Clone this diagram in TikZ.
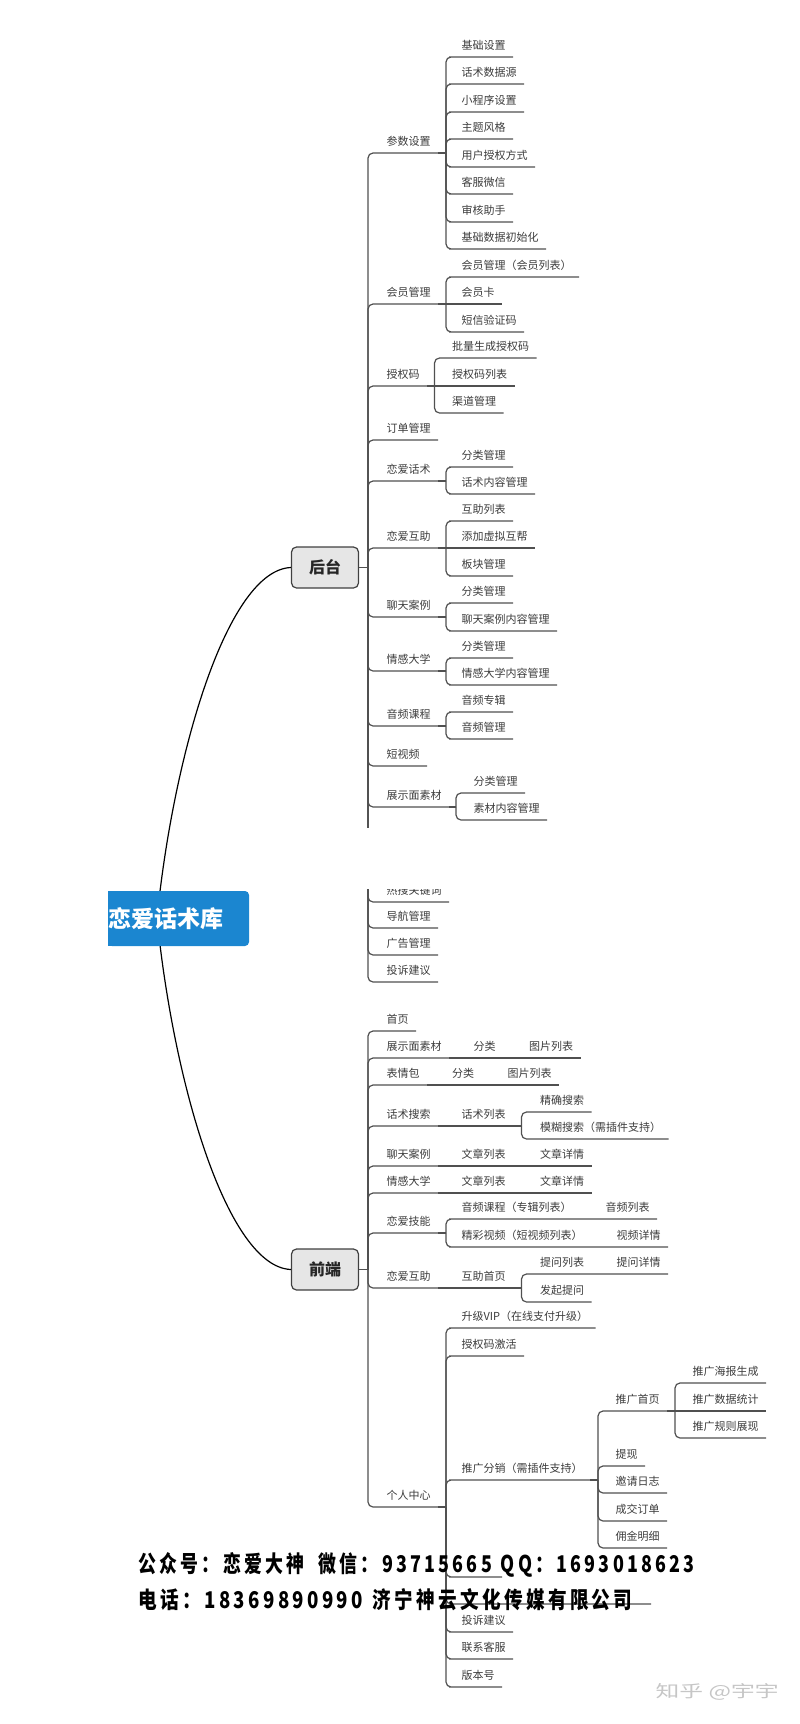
\documentclass[tikz,border=0pt]{standalone}
\usepackage{fontspec}
\setmainfont{Noto Sans CJK SC}
\usepackage{graphicx}
\usepackage{tikz}
\definecolor{rootblue}{RGB}{27,134,208}
\definecolor{linegray}{RGB}{80,80,80}
\definecolor{txtgray}{RGB}{60,60,60}
\definecolor{boxgray}{RGB}{230,230,230}

\begin{document}
\begin{tikzpicture}[x=1pt, y=-1pt, line width=1.2pt,
    lbl/.style={anchor=south west, inner xsep=7pt, inner ysep=4pt, text height=8pt, text depth=3pt,
        font=\fontsize{11pt}{13pt}\selectfont, text=txtgray},
    conn/.style={draw=linegray, rounded corners=5pt},
    sconn/.style={draw=linegray},
    catbox/.style={draw=black!75, fill=boxgray, rounded corners=5pt, minimum width=67pt,
        minimum height=41pt, font=\fontsize{16pt}{18pt}\selectfont\bfseries, text=black!85},
    rootnode/.style={fill=rootblue, rounded corners=4pt, inner xsep=0pt, text width=141pt,
        minimum height=55pt, align=left, font=\fontsize{23pt}{26pt}\selectfont\bfseries, text=white},
    wmark/.style={anchor=base west, inner sep=0pt, font=\bfseries\addfontfeatures{LetterSpace=18}}]
    \useasboundingbox (0,0) rectangle (800,1724);

    % main branches
    \coordinate (rootj) at (157,918);
    \node[catbox] (ht) at (325,567.5) {后台};
    \node[catbox] (qd) at (325,1269.5) {前端};
    \draw (rootj) .. controls (174,750) and (228,570) .. (ht.west);
    \draw (rootj) .. controls (174,1087) and (228,1267) .. (qd.west);

    \fill[rootblue] (108,891) rectangle ++(8,55);
    \node[rootnode] (root) at (178.5,918.5) {恋爱话术库};

    \coordinate (jb) at (368,567.5);
    \coordinate (jf) at (368,1269.5);
    \draw[sconn] (ht.east) -- (jb);
    \draw[sconn] (qd.east) -- (jf);

    % 后台
    \node[lbl] (b1) at (379,153) {参数设置};
    \node[lbl] (b2) at (379,304) {会员管理};
    \node[lbl] (b3) at (379,386) {授权码};
    \node[lbl] (b4) at (379,440) {订单管理};
    \node[lbl] (b5) at (379,481) {恋爱话术};
    \node[lbl] (b6) at (379,548) {恋爱互助};
    \node[lbl] (b7) at (379,617) {聊天案例};
    \node[lbl] (b8) at (379,671) {情感大学};
    \node[lbl] (b9) at (379,726) {音频课程};
    \node[lbl] (b10) at (379,766) {短视频};
    \node[lbl] (b11) at (379,807) {展示面素材};
    \node[lbl] (b12) at (379,902) {热搜关键词};
    \node[lbl] (b13) at (379,928) {导航管理};
    \node[lbl] (b14) at (379,955) {广告管理};
    \node[lbl] (b15) at (379,982) {投诉建议};

    \draw[conn] (jb) |- (b1.south west) -- (b1.south east);
    \draw[conn] (jb) |- (b2.south west) -- (b2.south east);
    \draw[conn] (jb) |- (b3.south west) -- (b3.south east);
    \draw[conn] (jb) |- (b4.south west) -- (b4.south east);
    \draw[conn] (jb) |- (b5.south west) -- (b5.south east);
    \draw[conn] (jb) |- (b6.south west) -- (b6.south east);
    \draw[conn] (jb) |- (b7.south west) -- (b7.south east);
    \draw[conn] (jb) |- (b8.south west) -- (b8.south east);
    \draw[conn] (jb) |- (b9.south west) -- (b9.south east);
    \draw[conn] (jb) |- (b10.south west) -- (b10.south east);
    \draw[conn] (jb) |- (b11.south west) -- (b11.south east);
    \draw[conn] (jb) |- (b12.south west) -- (b12.south east);
    \draw[conn] (jb) |- (b13.south west) -- (b13.south east);
    \draw[conn] (jb) |- (b14.south west) -- (b14.south east);
    \draw[conn] (jb) |- (b15.south west) -- (b15.south east);

    % 参数设置
    \coordinate (j1) at (446,153);
    \node[lbl] (b1a) at (454,57) {基础设置};
    \node[lbl] (b1b) at (454,84) {话术数据源};
    \node[lbl] (b1c) at (454,112) {小程序设置};
    \node[lbl] (b1d) at (454,139) {主题风格};
    \node[lbl] (b1e) at (454,167) {用户授权方式};
    \node[lbl] (b1f) at (454,194) {客服微信};
    \node[lbl] (b1g) at (454,222) {审核助手};
    \node[lbl] (b1h) at (454,249) {基础数据初始化};
    \draw[sconn] (b1.south east) -- (j1);
    \draw[conn] (j1) |- (b1a.south west) -- (b1a.south east);
    \draw[conn] (j1) |- (b1b.south west) -- (b1b.south east);
    \draw[conn] (j1) |- (b1c.south west) -- (b1c.south east);
    \draw[conn] (j1) |- (b1d.south west) -- (b1d.south east);
    \draw[conn] (j1) |- (b1e.south west) -- (b1e.south east);
    \draw[conn] (j1) |- (b1f.south west) -- (b1f.south east);
    \draw[conn] (j1) |- (b1g.south west) -- (b1g.south east);
    \draw[conn] (j1) |- (b1h.south west) -- (b1h.south east);

    % 会员管理
    \coordinate (j2) at (446,304);
    \node[lbl] (b2a) at (454,277) {会员管理（会员列表）};
    \node[lbl] (b2b) at (454,304) {会员卡};
    \node[lbl] (b2c) at (454,332) {短信验证码};
    \draw[sconn] (b2.south east) -- (j2);
    \draw[conn] (j2) |- (b2a.south west) -- (b2a.south east);
    \draw[sconn] (j2) -- (b2b.south east);
    \draw[conn] (j2) |- (b2c.south west) -- (b2c.south east);

    % 授权码
    \coordinate (j3) at (434.5,386);
    \node[lbl] (b3a) at (444.5,358) {批量生成授权码};
    \node[lbl] (b3b) at (444.5,386) {授权码列表};
    \node[lbl] (b3c) at (444.5,413) {渠道管理};
    \draw[sconn] (b3.south east) -- (j3);
    \draw[conn] (j3) |- (b3a.south west) -- (b3a.south east);
    \draw[sconn] (j3) -- (b3b.south east);
    \draw[conn] (j3) |- (b3c.south west) -- (b3c.south east);

    % 恋爱话术
    \coordinate (j4) at (446,481);
    \node[lbl] (b5a) at (454,467) {分类管理};
    \node[lbl] (b5b) at (454,494) {话术内容管理};
    \draw[sconn] (b5.south east) -- (j4);
    \draw[conn] (j4) |- (b5a.south west) -- (b5a.south east);
    \draw[conn] (j4) |- (b5b.south west) -- (b5b.south east);

    % 恋爱互助
    \coordinate (j5) at (446,548);
    \node[lbl] (b6a) at (454,521) {互助列表};
    \node[lbl] (b6b) at (454,548) {添加虚拟互帮};
    \node[lbl] (b6c) at (454,576) {板块管理};
    \draw[sconn] (b6.south east) -- (j5);
    \draw[conn] (j5) |- (b6a.south west) -- (b6a.south east);
    \draw[sconn] (j5) -- (b6b.south east);
    \draw[conn] (j5) |- (b6c.south west) -- (b6c.south east);

    % 聊天案例
    \coordinate (j6) at (446,617);
    \node[lbl] (b7a) at (454,603) {分类管理};
    \node[lbl] (b7b) at (454,631) {聊天案例内容管理};
    \draw[sconn] (b7.south east) -- (j6);
    \draw[conn] (j6) |- (b7a.south west) -- (b7a.south east);
    \draw[conn] (j6) |- (b7b.south west) -- (b7b.south east);

    % 情感大学
    \coordinate (j7) at (446,671);
    \node[lbl] (b8a) at (454,658) {分类管理};
    \node[lbl] (b8b) at (454,685) {情感大学内容管理};
    \draw[sconn] (b8.south east) -- (j7);
    \draw[conn] (j7) |- (b8a.south west) -- (b8a.south east);
    \draw[conn] (j7) |- (b8b.south west) -- (b8b.south east);

    % 音频课程
    \coordinate (j8) at (446,726);
    \node[lbl] (b9a) at (454,712) {音频专辑};
    \node[lbl] (b9b) at (454,739) {音频管理};
    \draw[sconn] (b9.south east) -- (j8);
    \draw[conn] (j8) |- (b9a.south west) -- (b9a.south east);
    \draw[conn] (j8) |- (b9b.south west) -- (b9b.south east);

    % 展示面素材
    \coordinate (j9) at (456,807);
    \node[lbl] (b11a) at (466,793) {分类管理};
    \node[lbl] (b11b) at (466,820) {素材内容管理};
    \draw[sconn] (b11.south east) -- (j9);
    \draw[conn] (j9) |- (b11a.south west) -- (b11a.south east);
    \draw[conn] (j9) |- (b11b.south west) -- (b11b.south east);

    % 前端
    \node[lbl] (f1) at (379,1031) {首页};
    \node[lbl] (f2) at (379,1058) {展示面素材};
    \node[lbl] (f3) at (379,1085) {表情包};
    \node[lbl] (f4) at (379,1126) {话术搜索};
    \node[lbl] (f5) at (379,1166) {聊天案例};
    \node[lbl] (f6) at (379,1193) {情感大学};
    \node[lbl] (f7) at (379,1233) {恋爱技能};
    \node[lbl] (f8) at (379,1288) {恋爱互助};
    \node[lbl] (f9) at (379,1507) {个人中心};

    \draw[conn] (jf) |- (f1.south west) -- (f1.south east);
    \draw[conn] (jf) |- (f2.south west) -- (f2.south east);
    \draw[conn] (jf) |- (f3.south west) -- (f3.south east);
    \draw[conn] (jf) |- (f4.south west) -- (f4.south east);
    \draw[conn] (jf) |- (f5.south west) -- (f5.south east);
    \draw[conn] (jf) |- (f6.south west) -- (f6.south east);
    \draw[conn] (jf) |- (f7.south west) -- (f7.south east);
    \draw[conn] (jf) |- (f8.south west) -- (f8.south east);
    \draw[conn] (jf) |- (f9.south west) -- (f9.south east);

    % chains
    \node[lbl] (f2a) at (466,1058) {分类};
    \node[lbl] (f2b) at (521.5,1058) {图片列表};
    \draw[sconn] (f2.south east) -- (f2b.south east);
    \node[lbl] (f3a) at (444.5,1085) {分类};
    \node[lbl] (f3b) at (500,1085) {图片列表};
    \draw[sconn] (f3.south east) -- (f3b.south east);
    \node[lbl] (f5a) at (454,1166) {文章列表};
    \node[lbl] (f5b) at (532.5,1166) {文章详情};
    \draw[sconn] (f5.south east) -- (f5b.south east);
    \node[lbl] (f6a) at (454,1193) {文章列表};
    \node[lbl] (f6b) at (532.5,1193) {文章详情};
    \draw[sconn] (f6.south east) -- (f6b.south east);

    % 话术搜索
    \coordinate (jf4) at (521.5,1126);
    \node[lbl] (f4a) at (454,1126) {话术列表};
    \node[lbl] (f4b) at (532.5,1112) {精确搜索};
    \node[lbl] (f4c) at (532.5,1139) {模糊搜索（需插件支持）};
    \draw[sconn] (f4.south east) -- (jf4);
    \draw[conn] (jf4) |- (f4b.south west) -- (f4b.south east);
    \draw[conn] (jf4) |- (f4c.south west) -- (f4c.south east);

    % 恋爱技能
    \coordinate (jf7) at (446,1233);
    \node[lbl] (f7a) at (454,1219) {音频课程（专辑列表）};
    \node[lbl] (f7b) at (598,1219) {音频列表};
    \node[lbl] (f7c) at (454,1247) {精彩视频（短视频列表）};
    \node[lbl] (f7d) at (609,1247) {视频详情};
    \draw[sconn] (f7.south east) -- (jf7);
    \draw[conn] (jf7) |- (f7a.south west) -- (f7b.south east);
    \draw[conn] (jf7) |- (f7c.south west) -- (f7d.south east);

    % 恋爱互助
    \coordinate (jf8) at (521.5,1288);
    \node[lbl] (f8a) at (454,1288) {互助首页};
    \node[lbl] (f8b) at (532.5,1274) {提问列表};
    \node[lbl] (f8c) at (609,1274) {提问详情};
    \node[lbl] (f8d) at (532.5,1302) {发起提问};
    \draw[sconn] (f8.south east) -- (jf8);
    \draw[conn] (jf8) |- (f8b.south west) -- (f8c.south east);
    \draw[conn] (jf8) |- (f8d.south west) -- (f8d.south east);

    % 个人中心
    \coordinate (jf9) at (446,1507);
    \node[lbl] (f9a) at (454,1328) {升级VIP（在线支付升级）};
    \node[lbl] (f9b) at (454,1356) {授权码激活};
    \node[lbl] (f9c) at (454,1480) {推广分销（需插件支持）};
    \node[lbl, minimum width=47pt] (f9d) at (454,1577) {};
    \node[lbl, minimum width=196pt] (f9e) at (454,1604) {};
    \node[lbl] (f9f) at (454,1632) {投诉建议};
    \node[lbl] (f9g) at (454,1659) {联系客服};
    \node[lbl] (f9h) at (454,1687) {版本号};
    \draw[sconn] (f9.south east) -- (jf9);
    \draw[conn] (jf9) |- (f9a.south west) -- (f9a.south east);
    \draw[conn] (jf9) |- (f9b.south west) -- (f9b.south east);
    \draw[conn] (jf9) |- (f9c.south west) -- (f9c.south east);
    \draw[conn] (jf9) |- (f9d.south west) -- (f9d.south east);
    \draw[conn] (jf9) |- (f9e.south west) -- (f9e.south east);
    \draw[conn] (jf9) |- (f9f.south west) -- (f9f.south east);
    \draw[conn] (jf9) |- (f9g.south west) -- (f9g.south east);
    \draw[conn] (jf9) |- (f9h.south west) -- (f9h.south east);

    % 推广分销
    \coordinate (jt) at (598,1480);
    \node[lbl] (t1) at (608,1411) {推广首页};
    \node[lbl] (t2) at (608,1466) {提现};
    \node[lbl] (t3) at (608,1493) {邀请日志};
    \node[lbl] (t4) at (608,1521) {成交订单};
    \node[lbl] (t5) at (608,1548) {佣金明细};
    \draw[sconn] (f9c.south east) -- (jt);
    \draw[conn] (jt) |- (t1.south west) -- (t1.south east);
    \draw[conn] (jt) |- (t2.south west) -- (t2.south east);
    \draw[conn] (jt) |- (t3.south west) -- (t3.south east);
    \draw[conn] (jt) |- (t4.south west) -- (t4.south east);
    \draw[conn] (jt) |- (t5.south west) -- (t5.south east);

    \coordinate (jt1) at (675,1411);
    \node[lbl] (t1a) at (685,1383) {推广海报生成};
    \node[lbl] (t1b) at (685,1411) {推广数据统计};
    \node[lbl] (t1c) at (685,1438) {推广规则展现};
    \draw[sconn] (t1.south east) -- (jt1);
    \draw[conn] (jt1) |- (t1a.south west) -- (t1a.south east);
    \draw[sconn] (jt1) -- (t1b.south east);
    \draw[conn] (jt1) |- (t1c.south west) -- (t1c.south east);

    % cut in the picture
    \fill[white] (360,828) rectangle (620,889);

    % watermarks
    \node[wmark] (wm1) at (138,1572)
        {\resizebox{556pt}{20pt}{公众号：恋爱大神\hspace{0.8em}微信：93715665\hspace{0.5em}QQ：1693018623}};
    \node[wmark] (wm2) at (138,1608)
        {\resizebox{494pt}{20pt}{电话：18369890990\hspace{0.5em}济宁神云文化传媒有限公司}};
    \node[anchor=base west, inner sep=0pt, text=gray!45] (zh) at (655,1697)
        {\resizebox{123pt}{14pt}{知乎 @宇宇}};
\end{tikzpicture}
\end{document}
